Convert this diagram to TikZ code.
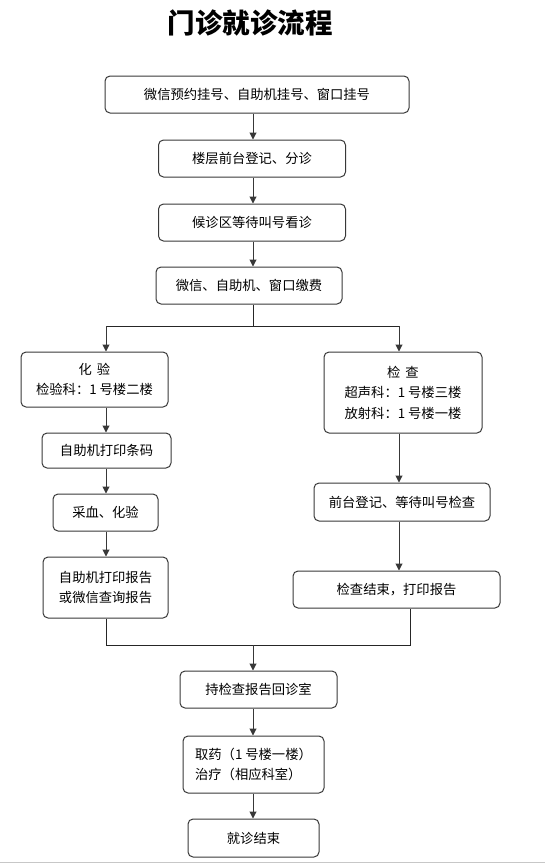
\documentclass[tikz,border=0pt]{standalone}
\usepackage{fontspec}
\setmainfont{Noto Sans CJK SC}
\usetikzlibrary{arrows.meta}
\newcommand{\one}{1\hspace{3pt}}
\begin{document}
\begin{tikzpicture}[x=1pt,y=-1pt,
  box/.style={draw=black!78,line width=1pt,rounded corners=5pt,inner sep=0pt,
    font=\fontsize{13.3}{20.5}\selectfont,align=center},
  arr/.style={draw=black!78,line width=1pt,-{Triangle[width=7pt,length=7pt]}},
  ln/.style={draw=black!85,line width=1pt}]
\useasboundingbox (0,0) rectangle (545,863);
\node[font=\fontsize{27.5}{30}\selectfont\bfseries] (title) at (250,23) {门诊就诊流程};
\coordinate (m) at (253,0);
\coordinate (L) at (106,0);
\coordinate (R) at (399,0);
\coordinate (R2) at (410,0);
\node[box,minimum width=304pt,minimum height=37pt] (b1) at (257,94.5) {微信预约挂号、自助机挂号、窗口挂号};
\node[box,minimum width=187pt,minimum height=37pt] (b2) at (252,158.5) {楼层前台登记、分诊};
\node[box,minimum width=187pt,minimum height=37pt] (b3) at (252,222.5) {候诊区等待叫号看诊};
\node[box,minimum width=186pt,minimum height=37pt] (b4) at (249,285.5) {微信、自助机、窗口缴费};
\node[box,minimum width=147pt,minimum height=55pt] (b5) at (94.5,379.5) {化\hspace{5pt}验\\检验科：\one 号楼二楼};
\node[box,minimum width=158pt,minimum height=81pt] (b6) at (403,392.5) {检\hspace{5pt}查\\超声科：\one 号楼三楼\\放射科：\one 号楼一楼};
\node[box,minimum width=129pt,minimum height=35pt] (b7) at (106.5,450.5) {自助机打印条码};
\node[box,minimum width=105pt,minimum height=37pt] (b8) at (105.5,512.5) {采血、化验};
\node[box,minimum width=125pt,minimum height=61pt] (b9) at (105.5,587.5) {自助机打印报告\\或微信查询报告};
\node[box,minimum width=176pt,minimum height=38pt] (b10) at (402,502) {前台登记、等待叫号检查};
\node[box,minimum width=207pt,minimum height=37pt] (b11) at (396.5,589.5) {检查结束，打印报告};
\node[box,minimum width=157pt,minimum height=37pt] (b12) at (258.5,689.5) {持检查报告回诊室};
\node[box,minimum width=141pt,minimum height=57pt,align=left] (b13) at (253.5,764.5) {取药（\one 号楼一楼）\\治疗（相应科室）};
\node[box,minimum width=131pt,minimum height=38pt] (b14) at (253.5,838) {就诊结束};
\coordinate (split) at (253,326);
\coordinate (merge) at (253,645);
% main column
\draw[arr] (b1.south -| m) -- (b2.north -| m);
\draw[arr] (b2.south -| m) -- (b3.north -| m);
\draw[arr] (b3.south -| m) -- (b4.north -| m);
\draw[ln] (b4.south -| m) -- (split);
\draw[ln] (split -| L) -- (split -| R);
\draw[arr] (split -| L) -- (b5.north -| L);
\draw[arr] (split -| R) -- (b6.north -| R);
% left branch
\draw[arr] (b5.south -| L) -- (b7.north -| L);
\draw[arr] (b7.south -| L) -- (b8.north -| L);
\draw[arr] (b8.south -| L) -- (b9.north -| L);
% right branch
\draw[arr] (b6.south -| R) -- (b10.north -| R);
\draw[arr] (b10.south -| R) -- (b11.north -| R);
% merge
\draw[ln] (b9.south -| L) -- (merge -| L) -- (merge -| R2) -- (b11.south -| R2);
\draw[arr] (merge) -- (b12.north -| m);
\draw[arr] (b12.south -| m) -- (b13.north -| m);
\draw[arr] (b13.south -| m) -- (b14.north -| m);
\coordinate (e1) at (0,862);
\coordinate (e2) at (545,862);
\draw[draw=black!22,line width=1pt] (e1) -- (e2);
\end{tikzpicture}
\end{document}
